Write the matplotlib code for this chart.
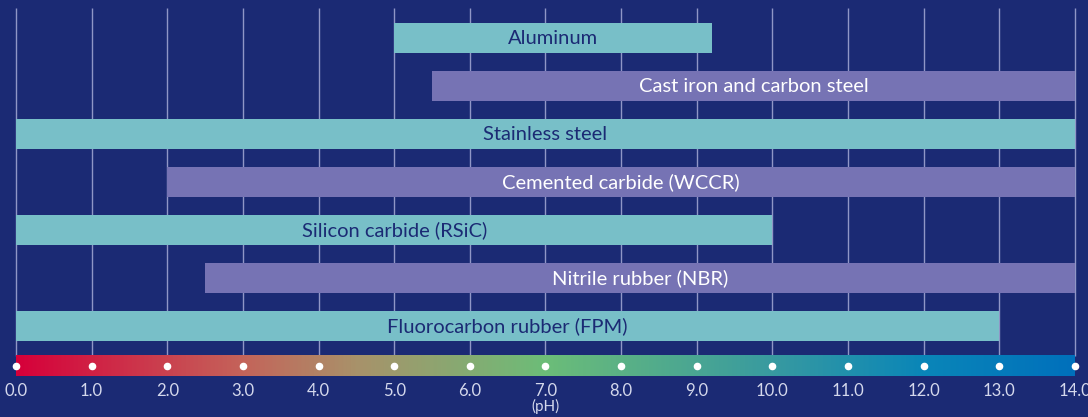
import numpy as np
import matplotlib.pyplot as plt
from matplotlib.colors import LinearSegmentedColormap

plt.rcParams['font.family'] = ['Lato', 'DejaVu Sans']

materials = ['Aluminum', 'Cast iron and carbon steel', 'Stainless steel',
             'Cemented carbide (WCCR)', 'Silicon carbide (RSiC)',
             'Nitrile rubber (NBR)', 'Fluorocarbon rubber (FPM)']
ph_low = [5.0, 5.5, 0.0, 2.0, 0.0, 2.5, 0.0]
ph_high = [9.2, 14.0, 14.0, 14.0, 10.0, 14.0, 13.0]
ph_ticks = np.arange(0, 15, 1)
tick_labels = [f"{t:.1f}" for t in ph_ticks]

bg = '#1b2a74'
teal = '#78bfc8'
purple = '#7673b4'

fig = plt.figure(figsize=(10.88, 4.17), dpi=100, facecolor=bg)
ax = fig.add_axes([0, 0, 1, 1])
ax.set_facecolor(bg)
ax.set_xlim(-16 / 75.64, (1088 - 16) / 75.64)
ax.set_ylim((417 - 38) / 48, -38 / 48)
ax.axis('off')

# vertical grid lines
ax.vlines(ph_ticks, -0.625, 6.625, color='#9096c6', lw=1, zorder=1)

# bars
for i, (m, lo, hi) in enumerate(zip(materials, ph_low, ph_high)):
    c = teal if i % 2 == 0 else purple
    tc = bg if i % 2 == 0 else 'white'
    ax.barh(i, hi - lo, left=lo, height=0.625, color=c, zorder=2)
    ax.text((lo + hi) / 2, i, m, ha='center', va='center', color=tc,
            fontsize=14.5, zorder=3)

# pH gradient bar
cmap = LinearSegmentedColormap.from_list('ph', [
    (0.0, '#d6003a'), (3 / 14, '#c4645a'), (4.5 / 14, '#a8926a'),
    (7 / 14, '#6cbd78'), (10 / 14, '#389aa0'), (12 / 14, '#0a86b8'),
    (1.0, '#0070bc')])
grad = np.linspace(0, 1, 512).reshape(1, -1)
ax.imshow(grad, cmap=cmap, aspect='auto', extent=[0, 14, 7.042, 6.625], zorder=2)
ax.scatter(ph_ticks, np.full(len(ph_ticks), 6.833), s=20, color='white', zorder=4)

for t, lab in zip(ph_ticks, tick_labels):
    ax.text(t, 7.35, lab, ha='center', va='center', color='#d4d8ec', fontsize=12)
ax.text(7, 7.67, '(pH)', ha='center', va='center', color='#d4d8ec', fontsize=11)

plt.savefig('out.png', dpi=100, facecolor=bg)
plt.close()
